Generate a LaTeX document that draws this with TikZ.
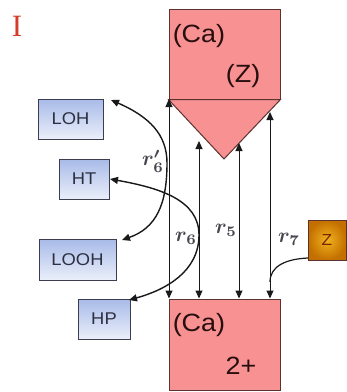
\documentclass[tikz,border=0pt]{standalone}
\usepackage{fontspec}
\newfontfamily\boxfont[FakeStretch=1.08]{Liberation Sans}
\newfontfamily\serifI{Liberation Serif}
\usetikzlibrary{arrows.meta}
\definecolor{pinkfill}{RGB}{248,145,145}
\definecolor{pinkline}{RGB}{90,50,50}
\definecolor{bluetop}{RGB}{168,186,232}
\definecolor{bluebot}{RGB}{234,239,250}
\definecolor{blueline}{RGB}{60,62,80}
\definecolor{bluetext}{RGB}{45,48,65}
\definecolor{zin}{RGB}{242,178,30}
\definecolor{zout}{RGB}{195,112,0}
\definecolor{ztext}{RGB}{120,40,0}
\definecolor{labelgray}{RGB}{70,70,80}
\definecolor{redI}{RGB}{210,60,40}
\definecolor{pinktext}{RGB}{40,15,15}
\begin{document}
\begin{tikzpicture}[x=1pt,y=-1pt,
  bluebox/.style={draw=blueline, line width=0.9pt, top color=bluetop, bottom color=bluebot,
    inner sep=0pt, font={\boxfont\fontsize{17}{17}\selectfont}, text=bluetext},
  pinkbox/.style={draw=pinkline, line width=1pt, fill=pinkfill, inner sep=0pt},
  pinktxt/.style={inner sep=0pt, font={\boxfont\fontsize{25}{25}\selectfont}, text=pinktext},
  zbox/.style={draw=pinkline, line width=0.9pt, inner color=zin, outer color=zout,
    inner sep=0pt, font={\boxfont\fontsize{16}{16}\selectfont}, text=ztext},
  varrow/.style={line width=1pt, draw=black!90,
    {Triangle[length=8pt,width=7pt]}-{Triangle[length=8pt,width=7pt]}},
  curvearrow/.style={line width=1.4pt, draw=black!90,
    {Triangle[length=8pt,width=7pt]}-{Triangle[length=8pt,width=7pt]}},
  plaincurve/.style={line width=1.2pt, draw=black!90},
  rlabel/.style={inner sep=0pt, text=labelgray}
]
\useasboundingbox (0,0) rectangle (347,392);
\fill[white] (0,0) rectangle (347,392);

% roman numeral
\node[inner sep=0pt, text=redI, font={\serifI\fontsize{31}{31}\selectfont}] (num) at (17,26) {I};

% top compartment
\node[pinkbox, minimum width=111pt, minimum height=90pt] (top) at (224.5,54) {};
\coordinate (apex) at (224,159);
\draw[pinkbox] (top.south west) -- (top.south east) -- (apex) -- cycle;
\node[pinktxt] (ca1) at (199,36) {(Ca)};
\node[pinktxt] (z1) at (243,76) {(Z)};

% bottom compartment
\node[pinkbox, minimum width=111pt, minimum height=91pt] (bot) at (224.5,344.5) {};
\node[pinktxt] (ca2) at (199,325) {(Ca)};
\node[pinktxt] (two) at (241,366) {2+};

% Z box
\node[zbox, minimum width=38pt, minimum height=40pt] (zb) at (327,240) {Z};

% blue boxes
\node[bluebox, minimum width=65pt, minimum height=40pt] (loh) at (70.5,119) {LOH};
\node[bluebox, minimum width=50pt, minimum height=40pt] (ht) at (84,179) {HT};
\node[bluebox, minimum width=77pt, minimum height=41pt] (looh) at (77.5,259.5) {LOOH};
\node[bluebox, minimum width=52pt, minimum height=40pt] (hp) at (104,319) {HP};

% vertical double arrows
\coordinate (u1) at (169,99);
\coordinate (u2) at (199,141);
\coordinate (u3) at (239,143);
\coordinate (u4) at (270,112);
\draw[varrow] (u1) -- (u1 |- bot.north);
\draw[varrow] (u2) -- (u2 |- bot.north);
\draw[varrow] (u3) -- (u3 |- bot.north);
\draw[varrow] (u4) -- (u4 |- bot.north);

% r7 connector from Z
\coordinate (zs) at (308,258);
\coordinate (j7) at (270,282);
\draw[plaincurve] (zs) .. controls (286,259) and (270,266) .. (j7);

% r6' curve LOH <-> LOOH
\coordinate (lohtip) at (111,100);
\coordinate (loohtip) at (122,240);
\draw[curvearrow] (lohtip) .. controls (150,117) and (167,135) .. (167,163)
  .. controls (167,205) and (156,228) .. (loohtip);

% r6 curve HT <-> HP
\coordinate (httip) at (110,179);
\coordinate (hptip) at (129,300);
\draw[curvearrow] (httip) .. controls (160,188) and (199,200) .. (199,235)
  .. controls (199,272) and (165,290) .. (hptip);

% labels
\node[rlabel] (l6p) at (153,161) {\scalebox{2.1}{\boldmath$r'_6$}};
\node[rlabel] (l6) at (186,238) {\scalebox{2.1}{\boldmath$r_6$}};
\node[rlabel] (l5) at (226,230) {\scalebox{2.1}{\boldmath$r_5$}};
\node[rlabel] (l7) at (289,239) {\scalebox{2.1}{\boldmath$r_7$}};
\end{tikzpicture}
\end{document}
